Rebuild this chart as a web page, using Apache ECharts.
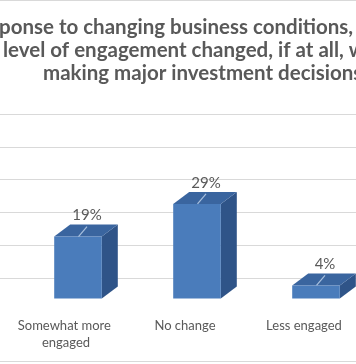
<!DOCTYPE html>
<html><head><meta charset="utf-8">
<script src="https://cdn.jsdelivr.net/npm/echarts@6/dist/echarts.min.js"></script>
<style>html,body{margin:0;padding:0;background:#fff}#c{width:356px;height:364px}</style>
</head><body><div id="c"></div>
<script>
const categories = ['Somewhat more engaged', 'No change', 'Less engaged'];
const values = [19, 29, 4];
const valueLabels = ['19%', '29%', '4%'];
const titleLines = [
  'In response to changing business conditions, how has your',
  'level of engagement changed, if at all, when',
  'making major investment decisions?'
];
const gridTicks = [0, 10, 20, 30, 40, 50];

const chart = echarts.init(document.getElementById('c'), null, {renderer: 'canvas'});

const cv = document.createElement('canvas').getContext('2d');
function measure(t, font) { cv.font = font; return cv.measureText(t).width; }
const titleFamily = 'Lato';
const tSize = 20.5;
const tFont = 'bold ' + tSize + 'px ' + titleFamily;
const line1X = -1 - measure('In res', tFont);

const titleColor = '#595959';

const option = {
  animation: false,
  backgroundColor: '#ffffff',
  grid: [
    {left: 0, right: 0, top: 114, bottom: 86, outerBoundsMode: 'none'},
    {left: 18.5, right: -19.5, top: 135.5, bottom: 65.5, outerBoundsMode: 'none', containLabel: false}
  ],
  xAxis: [
    {gridIndex: 0, type: 'value', show: false, min: 0, max: 1},
    {gridIndex: 1, type: 'category', data: categories,
     axisLine: {show: false}, axisTick: {show: false}, splitLine: {show: false},
     axisLabel: {color: '#595959', fontFamily: 'Lato', fontSize: 13, lineHeight: 17, margin: 19,
       width: 100, overflow: 'break', padding: [0, 24, 0, 0], interval: 0}}
  ],
  yAxis: [
    {gridIndex: 0, type: 'value', min: gridTicks[0], max: gridTicks[gridTicks.length - 1], interval: 10,
     axisLine: {show: false}, axisTick: {show: false}, axisLabel: {show: false},
     splitLine: {show: true, showMinLine: true, showMaxLine: true, lineStyle: {color: '#d9d9d9', width: 1}}},
    {gridIndex: 1, type: 'value', min: 0, max: 50, show: false}
  ],
  graphic: [
    {type: 'line', shape: {x1: 0, y1: 0.5, x2: 356, y2: 0.5}, style: {stroke: '#d9d9d9', lineWidth: 1}},
    {type: 'line', shape: {x1: 0, y1: 361.5, x2: 356, y2: 361.5}, style: {stroke: '#d9d9d9', lineWidth: 1}},
    {type: 'text', x: line1X, y: 27, style: {text: titleLines[0], font: tFont, fill: titleColor, verticalAlign: 'middle', align: 'left'}},
    {type: 'text', x: 3, y: 50, style: {text: titleLines[1], font: tFont, fill: titleColor, verticalAlign: 'middle', align: 'left'}},
    {type: 'text', x: 43, y: 73, style: {text: titleLines[2], font: tFont, fill: titleColor, verticalAlign: 'middle', align: 'left'}}
  ],
  series: [{
    type: 'custom',
    xAxisIndex: 1, yAxisIndex: 1,
    data: values.map((v, i) => [i, v]),
    renderItem: function (params, api) {
      const idx = api.value(0);
      const v = api.value(1);
      const base = api.coord([idx, 0]);
      const top = api.coord([idx, v]);
      const bw = api.size([1, 0])[0] * 0.4;
      const dx = 16, dy = 12;
      const x0 = base[0] - bw / 2, x1 = base[0] + bw / 2;
      const yb = base[1], yt = top[1];
      return {type: 'group', children: [
        {type: 'polygon', shape: {points: [[x1, yt], [x1 + dx, yt - dy], [x1 + dx, yb - dy], [x1, yb]]}, style: {fill: '#2f5488'}},
        {type: 'polygon', shape: {points: [[x0, yt], [x0 + dx, yt - dy], [x1 + dx, yt - dy], [x1, yt]]}, style: {fill: '#3a659f'}},
        {type: 'rect', shape: {x: x0, y: yt, width: bw, height: yb - yt}, style: {fill: '#4a7cbb'}},
        {type: 'line', shape: {x1: base[0] + 0.5, y1: yt, x2: base[0] + 9, y2: yt - 10}, style: {stroke: '#a8c0de', lineWidth: 1.2}},
        {type: 'text', style: {text: valueLabels[idx], x: base[0] + 9, y: yt - 21, align: 'center', verticalAlign: 'middle',
          fill: '#595959', font: '15px Lato'}}
      ]};
    }
  }]
};
chart.setOption(option);
</script>
</body></html>
